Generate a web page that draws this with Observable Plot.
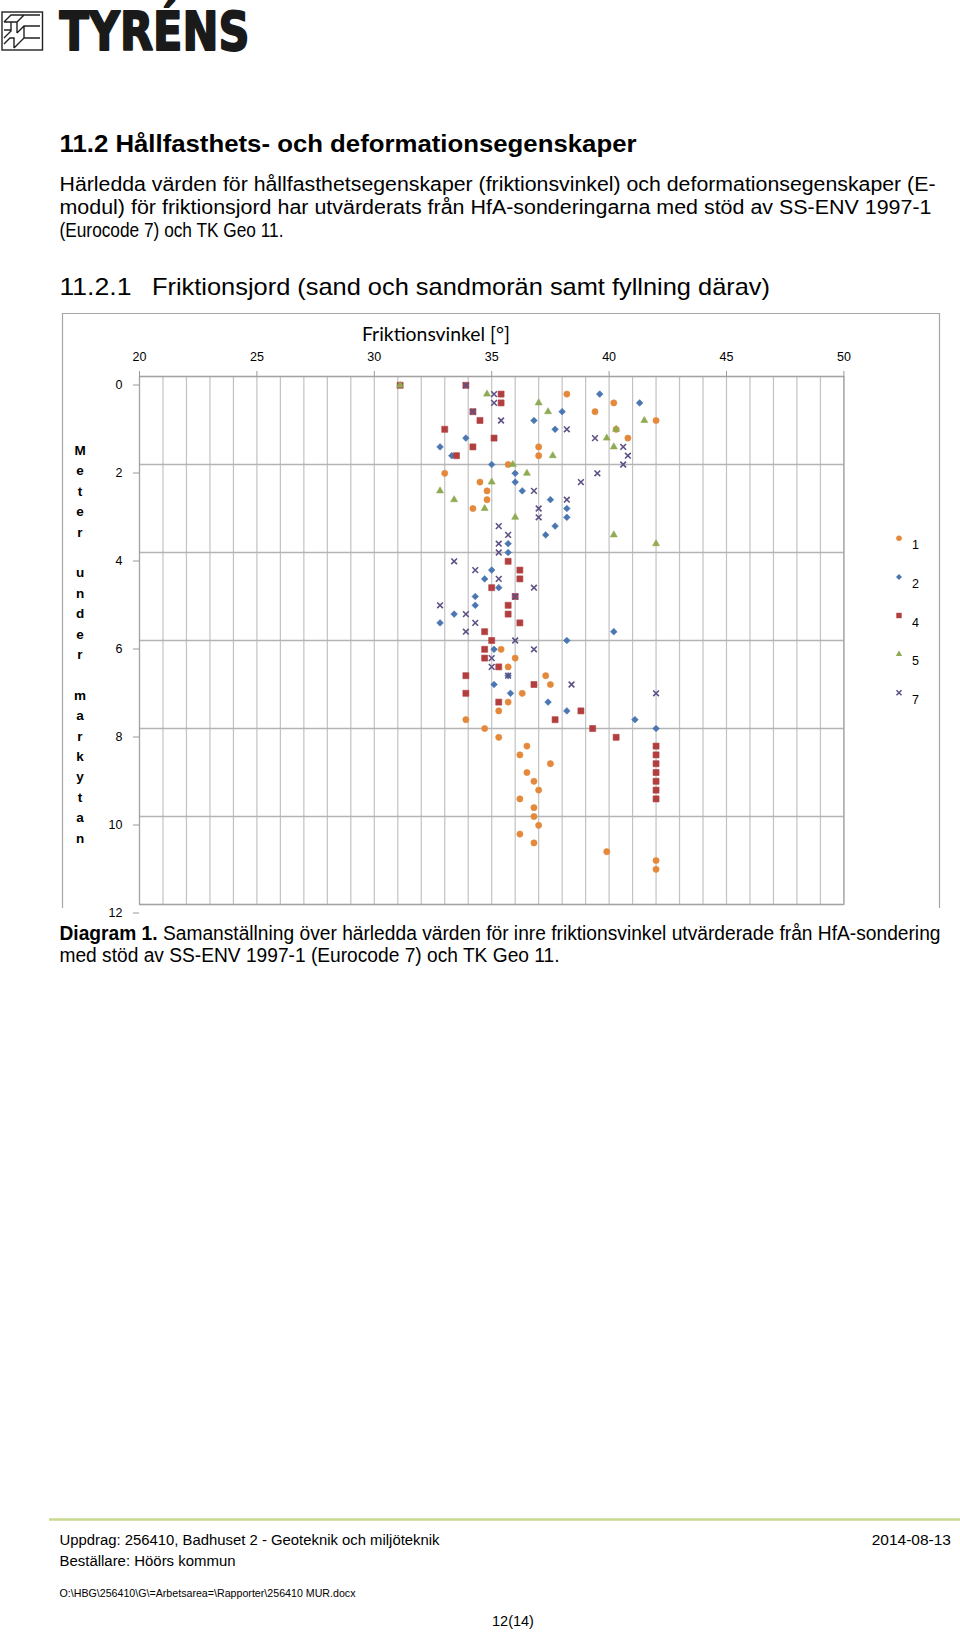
<!DOCTYPE html>
<html><head><meta charset="utf-8">
<script src="https://cdn.jsdelivr.net/npm/d3@7"></script>
<script src="https://cdn.jsdelivr.net/npm/@observablehq/plot@0.6"></script>
<style>
html,body{margin:0;padding:0;background:#fff;}
#page{position:relative;width:960px;height:1632px;overflow:hidden;background:#fff;}
#chart{position:absolute;left:0;top:300px;}
#overlay{position:absolute;left:0;top:0;pointer-events:none;}
</style></head><body>
<div id="page"><div id="chart"></div><svg id="overlay" width="960" height="1632"></svg></div>
<script>
// ---------- data ----------
const xTicks = [20, 25, 30, 35, 40, 45, 50];
const yTicks = [0, 2, 4, 6, 8, 10, 12];
const seriesNames = ["1", "2", "4", "5", "7"];

const s1Depth = [0.4,0.6,0.8,1.0,1.2,1.4,1.6,1.8,2.0,2.2,2.4,2.6,2.8,3.0,6.2,6.4,6.6,6.8,7.0,7.2,7.4,7.6,7.8,8.0,8.2,8.4,8.6,8.8,9.0,9.2,9.4,9.6,9.8,10.0,10.2,10.4,10.6,10.8,11.0,11.2];
const s1Angle = [38.2,40.2,39.4,42.0,40.3,40.8,37.0,37.0,35.7,33.0,34.5,34.8,34.8,34.2,35.4,36.0,35.7,37.3,37.5,36.3,35.7,35.3,33.9,34.7,35.3,36.5,36.2,37.5,36.5,36.8,37.0,36.2,36.8,36.8,37.0,36.2,36.8,39.9,42.0,42.0];

const s2Depth = [0.4,0.6,0.8,1.0,1.2,1.4,1.6,1.8,2.0,2.2,2.4,2.6,2.8,3.0,3.2,3.4,3.6,3.8,4.0,4.4,4.6,4.8,5.0,5.2,5.4,5.6,5.8,6.0,6.2,6.8,7.0,7.2,7.4,7.6,7.8,8.0];
const s2Angle = [39.6,41.3,38.0,36.8,37.7,33.9,32.8,33.3,35.0,36.0,36.0,36.3,37.5,38.2,38.2,37.7,37.3,35.7,35.7,35.0,34.7,35.3,34.3,34.3,33.4,32.8,40.2,38.2,35.1,35.7,35.1,35.8,37.4,38.2,41.1,42.0];

const s4Depth = [0.2,0.2,0.4,0.6,0.8,1.0,1.2,1.4,1.6,1.8,4.2,4.4,4.6,4.8,5.0,5.2,5.4,5.6,5.8,6.0,6.2,6.4,6.6,6.8,7.0,7.2,7.4,7.6,7.8,8.0,8.2,8.4,8.6,8.8,9.0,9.2,9.4,9.6];
const s4Angle = [31.1,33.9,35.4,35.4,34.2,34.5,33.0,35.1,34.2,33.5,35.7,36.2,36.2,35.0,36.0,35.7,35.7,36.2,34.7,35.0,34.7,34.7,35.3,33.9,36.8,33.9,35.3,38.8,37.7,39.3,40.3,42.0,42.0,42.0,42.0,42.0,42.0,42.0];

const s5Depth = [0.2,0.4,0.6,0.8,1.0,1.2,1.4,1.6,1.8,2.0,2.2,2.4,2.6,2.8,3.0,3.2,3.6,3.8];
const s5Angle = [31.1,34.8,37.0,37.4,41.5,40.3,39.9,40.2,37.6,35.9,36.5,35.0,32.8,33.4,34.7,36.0,40.2,42.0];

const s7Depth = [0.2,0.4,0.6,0.8,1.0,1.2,1.4,1.6,1.8,2.0,2.2,2.4,2.6,2.8,3.0,3.2,3.4,3.6,3.8,4.0,4.2,4.4,4.6,4.8,5.0,5.2,5.4,5.6,5.8,6.0,6.2,6.4,6.6,6.8,7.0,7.2];
const s7Angle = [33.9,35.1,35.1,34.2,35.4,38.2,39.4,40.6,40.8,40.6,39.5,38.8,36.8,38.2,37.0,37.0,35.3,35.7,35.3,35.3,33.4,34.3,35.3,36.8,36.0,32.8,33.9,34.3,33.9,36.0,36.8,35.0,35.0,35.7,38.4,42.0];

// ---------- styles per series ----------
const seriesStyle = {
  "1": {symbol: "circle",   color: "#e4893b", r: 3.1},
  "2": {symbol: "diamond2", color: "#4a76b2", r: 3.0},
  "4": {symbol: "square",   color: "#b23f3f", r: 3.4},
  "5": {symbol: "triangle", color: "#8fab52", r: 2.6},
  "7": {symbol: "times",    color: "#5f5086", r: 2.7}
};
const build = (name, depths, angles) => depths.map((d, i) => ({series: name, depth: d, angle: angles[i]}));
const seriesData = {
  "1": build("1", s1Depth, s1Angle),
  "2": build("2", s2Depth, s2Angle),
  "4": build("4", s4Depth, s4Angle),
  "5": build("5", s5Depth, s5Angle),
  "7": build("7", s7Depth, s7Angle)
};

const dotMarks = seriesNames.map(n => {
  const st = seriesStyle[n];
  if (st.symbol === "times") {
    return Plot.dot(seriesData[n], {x: "angle", y: "depth", symbol: "times", r: st.r, stroke: st.color, strokeWidth: 1.6});
  }
  return Plot.dot(seriesData[n], {x: "angle", y: "depth", symbol: st.symbol, r: st.r, fill: st.color, stroke: st.color, strokeWidth: 0.6});
});

const chart = Plot.plot({
  width: 960,
  height: 620,
  marginLeft: 139,
  marginRight: 116.6,
  marginTop: 76,
  marginBottom: 16,
  style: {fontFamily: "Liberation Sans, Arial, sans-serif", fontSize: "12.5px", color: "#000", background: "transparent", overflow: "visible"},
  x: {domain: [20, 50], axis: null},
  y: {domain: [0, 12], reverse: true, axis: null},
  marks: [
    Plot.gridX(d3.range(20, 51, 1), {stroke: "#c2c2c2", strokeOpacity: 1, strokeWidth: 1.2}),
    Plot.gridY(d3.range(0, 13, 2), {stroke: "#b4b4b4", strokeOpacity: 1, strokeWidth: 1.3}),
    Plot.frame({stroke: "#a3a3a3", strokeWidth: 1.2}),
    Plot.axisX(xTicks, {anchor: "top", tickSize: 6, tickPadding: 10, stroke: "#999", label: null}),
    Plot.axisY(yTicks, {anchor: "left", tickSize: 6, tickPadding: 11, stroke: "#999", dy: 8.5, label: null}),
    ...dotMarks
  ]
});
document.getElementById("chart").appendChild(chart);

// ---------- page texts ----------
const ov = d3.select("#overlay");
function txt(s, x, y, o = {}) {
  const t = ov.append("text").attr("x", x).attr("y", y)
    .attr("font-size", o.size || 16).attr("font-weight", o.weight || 400)
    .attr("font-family", o.family || "Liberation Sans, Arial, sans-serif")
    .attr("text-anchor", o.anchor || "start").attr("fill", o.fill || "#000").text(s);
  if (o.w) t.attr("textLength", o.w).attr("lengthAdjust", "spacingAndGlyphs");
  return t;
}

// logo
const logo = ov.append("g").attr("fill", "none").attr("stroke", "#222").attr("stroke-width", 1.4);
logo.append("rect").attr("x", 2).attr("y", 12).attr("width", 40.5).attr("height", 38);
logo.append("path").attr("d", "M4,22 L11,15 L40,15 M4,22 L17,22 L24,15 M11,22 L11,31 L4,38 M17,22 L17,33 M4,30 L11,30 M17,33 L24,26 L40,26 M24,26 L24,38 L14,48 M24,38 L40,38 M4,44 L10,38 L14,38 L14,48");
txt("TYRÉNS", 59.5, 50, {size: 53, weight: 900, family: "DejaVu Sans, sans-serif", w: 190, fill: "#1a1a1a"})
  .attr("stroke", "#1a1a1a").attr("stroke-width", 2).attr("stroke-linejoin", "round");

txt("11.2 Hållfasthets- och deformationsegenskaper", 59.5, 152, {size: 24, weight: 700, w: 577});
txt("Härledda värden för hållfasthetsegenskaper (friktionsvinkel) och deformationsegenskaper (E-", 59.5, 190.5, {size: 19.5, w: 876});
txt("modul) för friktionsjord har utvärderats från HfA-sonderingarna med stöd av SS-ENV 1997-1", 59.5, 213.5, {size: 19.5, w: 872});
txt("(Eurocode 7) och TK Geo 11.", 59.5, 236.5, {size: 19.5, w: 224});
txt("11.2.1", 59.5, 295, {size: 24, w: 72});
txt("Friktionsjord (sand och sandmorän samt fyllning därav)", 152, 295, {size: 24, w: 618});

// chart box
ov.append("path").attr("d", "M62.5,908 L62.5,313.5 L939.5,313.5 L939.5,908").attr("fill", "none").attr("stroke", "#a6a6a6").attr("stroke-width", 1.2);
txt("Friktionsvinkel [°]", 362, 341, {size: 19, family: "Lato, sans-serif", w: 148});

// y-axis label letters
const yLabel = "Meter under markytan";
[...yLabel].forEach((ch, i) => {
  if (ch !== " ") txt(ch, 80, 455 + i * 20.4, {size: 13.5, weight: 700, anchor: "middle"});
});

// legend
seriesNames.forEach((n, i) => {
  const st = seriesStyle[n];
  const yy = 538.3 + i * 38.6;
  const symType = {circle: d3.symbolCircle, diamond2: d3.symbolDiamond2, square: d3.symbolSquare, triangle: d3.symbolTriangle, times: d3.symbolTimes}[st.symbol];
  const p = ov.append("path").attr("transform", `translate(899,${yy})`)
    .attr("d", d3.symbol(symType, st.r * st.r * Math.PI * 0.8)());
  if (st.symbol === "times") p.attr("fill", "none").attr("stroke", st.color).attr("stroke-width", 1.5);
  else p.attr("fill", st.color);
  txt(n, 912, yy + 11, {size: 12.5});
});

// caption
const cap = ov.append("text").attr("x", 59.5).attr("y", 940).attr("font-size", 19.5)
  .attr("font-family", "Liberation Sans, Arial, sans-serif").attr("textLength", 881).attr("lengthAdjust", "spacingAndGlyphs");
cap.append("tspan").attr("font-weight", 700).text("Diagram 1.");
cap.append("tspan").text(" Samanställning över härledda värden för inre friktionsvinkel utvärderade från HfA-sondering");
txt("med stöd av SS-ENV 1997-1 (Eurocode 7) och TK Geo 11.", 59.5, 962, {size: 19.5, w: 500});

// footer
ov.append("line").attr("x1", 49).attr("x2", 960).attr("y1", 1519.5).attr("y2", 1519.5).attr("stroke", "#c9d98f").attr("stroke-width", 2.5);
txt("Uppdrag: 256410, Badhuset 2 - Geoteknik och miljöteknik", 59.5, 1545, {size: 15.5, w: 380});
txt("2014-08-13", 951, 1545, {size: 15.5, anchor: "end"});
txt("Beställare: Höörs kommun", 59.5, 1566, {size: 15.5, w: 176});
txt("O:\\HBG\\256410\\G\\=Arbetsarea=\\Rapporter\\256410 MUR.docx", 59.5, 1597, {size: 11, w: 296});
txt("12(14)", 513, 1626, {size: 14.5, anchor: "middle"});
</script>
</body></html>
